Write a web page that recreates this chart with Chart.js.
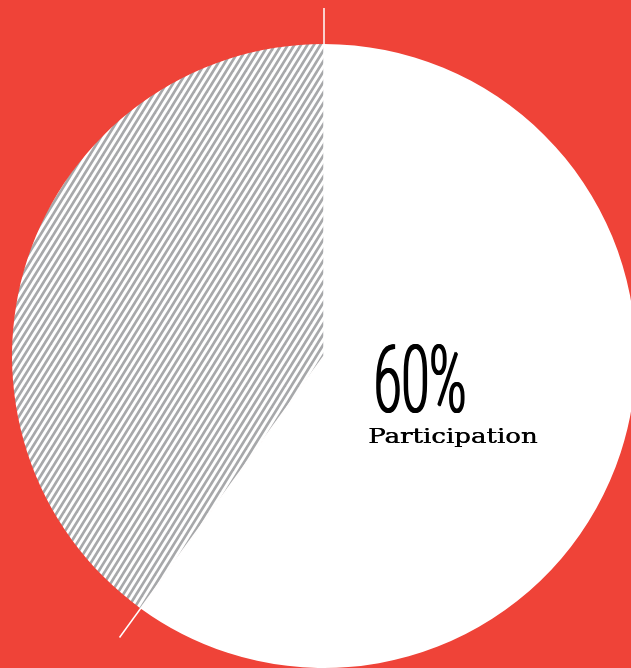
<!DOCTYPE html>
<html>
<head>
<meta charset="utf-8">
<script src="https://cdn.jsdelivr.net/npm/chart.js@4.4.1/dist/chart.umd.min.js"></script>
<style>
  html, body { margin: 0; padding: 0; width: 631px; height: 668px; overflow: hidden; background: #EF4338; }
  #wrap { position: absolute; left: -26px; top: 6px; width: 700px; height: 700px; }
</style>
</head>
<body>
<div id="wrap"><canvas id="pie"></canvas></div>
<script>
// Participation split
const labels = ['Participation', 'Non-participation'];
const values = [60, 40];

// striped fill for the remainder slice (two stripes per tile, 6.5px apart)
function makeHatch() {
  const w = 13, h = 21, gap = 6.5;
  const c = document.createElement('canvas');
  c.width = w; c.height = h;
  const x = c.getContext('2d');
  x.fillStyle = '#ffffff';
  x.fillRect(0, 0, w, h);
  x.strokeStyle = '#a7a8aa';
  x.lineWidth = 2.7;
  for (let x0 = -2 * w; x0 <= 2 * w; x0 += gap) {
    x.beginPath();
    x.moveTo(x0 - w, 2 * h);
    x.lineTo(x0 + 2 * w, -h);
    x.stroke();
  }
  return x.createPattern(c, 'repeat');
}

// white tick lines poking out of the pie at each slice edge
const edgeLines = {
  id: 'edgeLines',
  afterDatasetsDraw(chart) {
    const ctx = chart.ctx;
    const arcs = chart.getDatasetMeta(0).data;
    ctx.save();
    ctx.strokeStyle = '#ffffff';
    ctx.lineWidth = 1.5;
    arcs.forEach(a => {
      const len = a.outerRadius * 1.115;
      ctx.beginPath();
      ctx.moveTo(a.x, a.y);
      ctx.lineTo(a.x + Math.cos(a.startAngle) * len, a.y + Math.sin(a.startAngle) * len);
      ctx.stroke();
    });
    ctx.restore();
  }
};

// squeezed text, filled a few times side by side to fatten the stems
function squeezed(ctx, text, x, y, width, passes, step) {
  const tw = ctx.measureText(text).width;
  const sx = (width - step * (passes - 1)) / tw;
  for (let i = 0; i < passes; i++) {
    ctx.save();
    ctx.translate(x + i * step, y);
    ctx.scale(sx, 1);
    ctx.fillText(text, 0, 0);
    ctx.restore();
  }
}

// big percentage + caption on the white slice
const centreText = {
  id: 'centreText',
  afterDraw(chart) {
    const ctx = chart.ctx;
    const a = chart.getDatasetMeta(0).data[0];
    const total = values.reduce((s, v) => s + v, 0);
    const pct = Math.round(values[0] / total * 100) + '%';

    ctx.save();
    ctx.fillStyle = '#000000';
    ctx.textBaseline = 'alphabetic';
    ctx.textAlign = 'left';

    ctx.font = '300 95px Roboto';
    squeezed(ctx, pct, a.x + 49, a.y + 56, 94, 3, 0.7);

    ctx.font = '21px "DejaVu Serif"';
    squeezed(ctx, labels[0], a.x + 44, a.y + 87, 170, 2, 0.6);

    ctx.restore();
  }
};

new Chart(document.getElementById('pie'), {
  type: 'pie',
  data: {
    labels: labels,
    datasets: [{
      data: values,
      backgroundColor: ['#ffffff', makeHatch()],
      borderWidth: 0
    }]
  },
  options: {
    responsive: true,
    maintainAspectRatio: false,
    animation: false,
    events: [],
    layout: { padding: 38 },
    plugins: {
      legend: { display: false },
      tooltip: { enabled: false }
    }
  },
  plugins: [edgeLines, centreText]
});
</script>
</body>
</html>
